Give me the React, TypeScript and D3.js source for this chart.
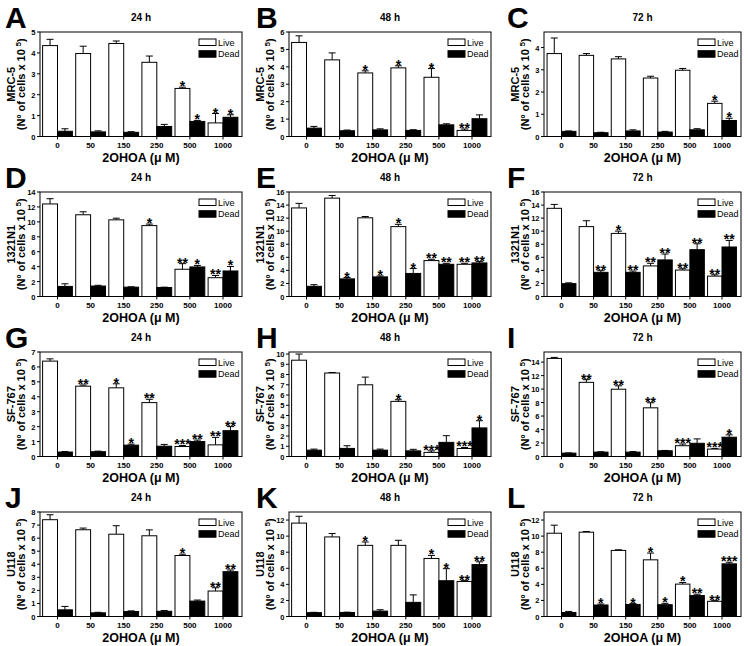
import React from "react";
import * as d3 from "d3";

const doses = ["0", "50", "150", "250", "500", "1000"];
const panelLetters = ["A", "B", "C", "D", "E", "F", "G", "H", "I", "J", "K", "L"];
const cellLines = ["MRC-5", "1321N1", "SF-767", "U118"];
const timePoints = ["24 h", "48 h", "72 h"];
const seriesNames = ["Live", "Dead"];
const xTitle = "2OHOA (\u03bc M)";

const yMaxes = [5, 6, 4.7, 14, 16, 16, 7, 10.2, 15.5, 8, 13, 13];
const yTickMax = [5, 6, 4, 14, 16, 16, 7, 10, 14, 8, 12, 12];
const yTickStep = [1, 1, 1, 2, 2, 2, 1, 1, 2, 1, 2, 2];

const liveMean = [
  [4.35, 3.97, 4.45, 3.55, 2.3, 0.65],
  [5.4, 4.4, 3.65, 3.94, 3.4, 0.35],
  [3.73, 3.65, 3.49, 2.63, 2.98, 1.49],
  [12.4, 10.95, 10.27, 9.5, 3.65, 2.52],
  [13.56, 15.06, 12.05, 10.7, 5.5, 4.93],
  [13.5, 10.7, 9.66, 4.68, 4.05, 3.12],
  [6.39, 4.71, 4.6, 3.61, 0.67, 0.78],
  [9.4, 8.15, 7.0, 5.38, 0.4, 0.78],
  [14.55, 11.0, 9.98, 7.22, 1.6, 1.1],
  [7.41, 6.64, 6.3, 6.18, 4.67, 1.95],
  [11.62, 9.9, 8.85, 8.85, 7.22, 4.36],
  [10.36, 10.49, 8.22, 7.05, 4.03, 1.89],
];
const liveErr = [
  [0.3, 0.35, 0.12, 0.3, 0.06, 0.45],
  [0.38, 0.4, 0.12, 0.12, 0.5, 0.08],
  [0.7, 0.08, 0.1, 0.08, 0.08, 0.1],
  [0.7, 0.4, 0.22, 0.2, 0.75, 0.3],
  [0.7, 0.4, 0.2, 0.35, 0.2, 0.15],
  [0.6, 0.9, 0.35, 0.4, 0.2, 0.2],
  [0.15, 0.08, 0.27, 0.22, 0.07, 0.5],
  [0.6, 0.05, 0.75, 0.16, 0.15, 0.1],
  [0.15, 0.4, 0.5, 0.75, 0.25, 0.1],
  [0.38, 0.13, 0.65, 0.45, 0.1, 0.25],
  [0.85, 0.42, 0.42, 0.63, 0.38, 0.1],
  [1.0, 0.08, 0.08, 0.84, 0.2, 0.08],
];
const deadMean = [
  [0.25, 0.22, 0.2, 0.48, 0.72, 0.92],
  [0.48, 0.33, 0.38, 0.35, 0.67, 1.02],
  [0.23, 0.17, 0.25, 0.2, 0.3, 0.72],
  [1.35, 1.4, 1.25, 1.2, 3.96, 3.42],
  [1.56, 2.7, 3.0, 3.53, 4.93, 5.14],
  [1.97, 3.7, 3.7, 5.6, 7.17, 7.58],
  [0.3, 0.32, 0.76, 0.69, 1.0, 1.73],
  [0.62, 0.79, 0.62, 0.55, 1.38, 2.79],
  [0.5, 0.65, 0.65, 0.85, 1.96, 2.86],
  [0.51, 0.28, 0.38, 0.4, 1.18, 3.43],
  [0.48, 0.5, 0.67, 1.76, 4.45, 6.46],
  [0.5, 1.43, 1.5, 1.47, 2.6, 6.55],
];
const deadErr = [
  [0.12, 0.05, 0.03, 0.1, 0.05, 0.12],
  [0.1, 0.04, 0.06, 0.04, 0.06, 0.22],
  [0.02, 0.02, 0.05, 0.03, 0.05, 0.1],
  [0.35, 0.1, 0.05, 0.05, 0.2, 0.6],
  [0.25, 0.2, 0.15, 0.75, 0.15, 0.2],
  [0.12, 0.25, 0.2, 0.9, 0.9, 1.0],
  [0.03, 0.04, 0.07, 0.12, 0.1, 0.27],
  [0.1, 0.26, 0.1, 0.15, 0.65, 0.7],
  [0.03, 0.05, 0.08, 0.05, 0.65, 0.35],
  [0.26, 0.04, 0.05, 0.06, 0.08, 0.13],
  [0.04, 0.04, 0.17, 0.93, 1.5, 0.34],
  [0.13, 0.12, 0.1, 0.17, 0.17, 0.2],
];
const liveStars = [
  ["", "", "", "", "*", "*"],
  ["", "", "*", "*", "*", "**"],
  ["", "", "", "", "", "*"],
  ["", "", "", "*", "**", "**"],
  ["", "", "", "*", "**", "**"],
  ["", "", "*", "**", "**", "**"],
  ["", "**", "*", "**", "***", "**"],
  ["", "", "", "*", "***", "***"],
  ["", "**", "**", "**", "***", "***"],
  ["", "", "", "", "*", "**"],
  ["", "", "*", "", "*", "**"],
  ["", "", "", "*", "*", "**"],
];
const deadStars = [
  ["", "", "", "", "*", "*"],
  ["", "", "", "", "", ""],
  ["", "", "", "", "", "*"],
  ["", "", "", "", "*", "*"],
  ["", "*", "*", "*", "**", "**"],
  ["", "**", "**", "**", "**", "**"],
  ["", "", "*", "", "**", "**"],
  ["", "", "", "", "", "*"],
  ["", "", "", "", "", "*"],
  ["", "", "", "", "", "**"],
  ["", "", "", "", "*", "**"],
  ["", "*", "*", "*", "**", "***"],
];

const FONT = "'Liberation Sans', Arial, Helvetica, sans-serif";
const colLeft = [40, 289, 544];
const colRight = [242, 491, 741];
const letterX = [5, 256, 507];

function Panel({ p }: { p: number }) {
  const r = Math.floor(p / 3);
  const c = p % 3;
  const top = 32 + 160 * r;
  const bottom = top + 104.5;
  const left = colLeft[c];
  const right = colRight[c];
  const x = d3.scalePoint<string>().domain(doses).range([left + 17.5, right - 19]);
  const y = d3.scaleLinear().domain([0, yMaxes[p]]).range([bottom, top]);
  const bw = x.step() * 0.45;
  const ticks = d3.range(0, yTickMax[p] + 1e-9, yTickStep[p]);
  const midY = (top + bottom) / 2;
  const midX = (left + right) / 2;

  const series = [
    { mean: liveMean[p], err: liveErr[p], stars: liveStars[p], fill: "#fff", off: -bw / 2 },
    { mean: deadMean[p], err: deadErr[p], stars: deadStars[p], fill: "#000", off: bw / 2 },
  ];

  return (
    <g>
      <text x={letterX[c]} y={top - 4} fontFamily={FONT} fontWeight="bold" fontSize={30}>
        {panelLetters[p]}
      </text>
      <text x={midX} y={top - 11} textAnchor="middle" fontFamily={FONT} fontWeight="bold" fontSize={10}>
        {timePoints[c]}
      </text>
      <g transform={`translate(${left - 25.5},${midY}) rotate(-90)`}>
        <text x={0} y={0} textAnchor="middle" fontFamily={FONT} fontWeight="bold" fontSize={11}>
          {cellLines[r]}
        </text>
      </g>
      <g transform={`translate(${left - 15},${midY}) rotate(-90)`}>
        <text x={0} y={0} textAnchor="middle" fontFamily={FONT} fontWeight="bold" fontSize={11}>
          {"(N\u00ba of cells x 10 "}
          <tspan dy={-4} fontSize={7.5}>5</tspan>
          <tspan dy={4}>)</tspan>
        </text>
      </g>
      {series.map((s, si) =>
        doses.map((d, i) => {
          const cx = (x(d) as number) + s.off;
          const y0 = y(0);
          const y1 = y(s.mean[i]);
          const ye = y(s.mean[i] + s.err[i]);
          return (
            <g key={`${si}-${i}`}>
              <line x1={cx} x2={cx} y1={y1} y2={ye} stroke="#000" strokeWidth={1} />
              <line x1={cx - 3.5} x2={cx + 3.5} y1={ye} y2={ye} stroke="#000" strokeWidth={1} />
              <rect x={cx - bw / 2} y={y1} width={bw} height={y0 - y1} fill={s.fill} stroke="#000" strokeWidth={1} />
              {s.stars[i] && (
                <text x={cx} y={ye + 4} textAnchor="middle" fontFamily={FONT} fontWeight="bold" fontSize={14}>
                  {s.stars[i]}
                </text>
              )}
            </g>
          );
        })
      )}
      <rect x={left} y={top} width={right - left} height={bottom - top} fill="none" stroke="#000" strokeWidth={1} />
      {ticks.map((t) => (
        <g key={t}>
          <line x1={left - 3} x2={left} y1={y(t)} y2={y(t)} stroke="#000" />
          <text x={left - 4.5} y={y(t) + 3} textAnchor="end" fontFamily={FONT} fontWeight="bold" fontSize={7.5}>
            {t}
          </text>
        </g>
      ))}
      {doses.map((d) => (
        <g key={d}>
          <line x1={x(d)} x2={x(d)} y1={bottom} y2={bottom + 3} stroke="#000" />
          <text x={x(d)} y={bottom + 11.5} textAnchor="middle" fontFamily={FONT} fontWeight="bold" fontSize={8}>
            {d}
          </text>
        </g>
      ))}
      <text x={midX} y={bottom + 25} textAnchor="middle" fontFamily={FONT} fontWeight="bold" fontSize={12.5}>
        {xTitle}
      </text>
      {seriesNames.map((n, k) => (
        <g key={n}>
          <rect x={right - 43} y={top + 7 + k * 11.7} width={17} height={6.5} fill={k === 0 ? "#fff" : "#000"} stroke="#000" />
          <text x={right - 24} y={top + 13.5 + k * 11.7} fontFamily={FONT} fontSize={9}>
            {n}
          </text>
        </g>
      ))}
    </g>
  );
}

export default function App() {
  return (
    <svg width={748} height={646} style={{ position: "absolute", left: 0, top: 0, background: "#fff" }}>
      <rect width={748} height={646} fill="#fff" />
      {panelLetters.map((_, p) => (
        <Panel key={p} p={p} />
      ))}
    </svg>
  );
}
